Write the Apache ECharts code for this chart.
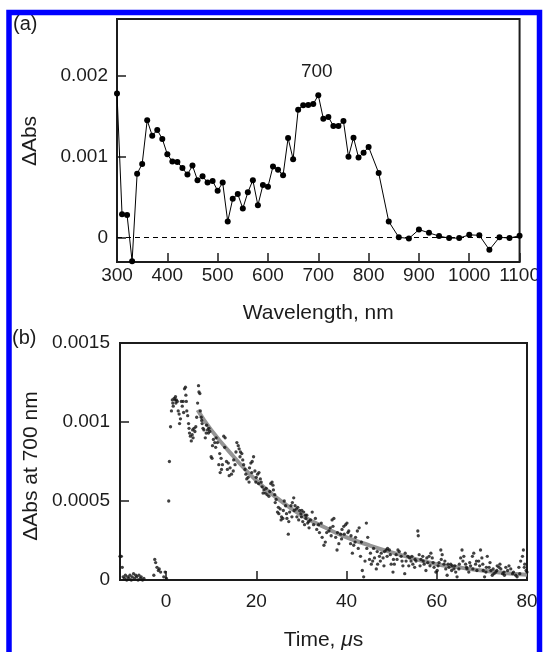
<!DOCTYPE html>
<html>
<head>
<meta charset="utf-8">
<script src="https://cdn.jsdelivr.net/npm/echarts@6/dist/echarts.min.js"></script>
<style>
html,body{margin:0;padding:0;background:#fff;}
#c{width:543px;height:652px;}
</style>
</head>
<body>
<div id="c"></div>
<script>
// ---------- Panel (a): transient absorption spectrum ----------
const wavelength = [300,310,320,330,340,350,360,370,380,390,400,410,420,430,440,450,460,470,480,490,500,510,520,530,540,550,560,570,580,590,600,610,620,630,640,650,660,670,680,690,700,710,720,730,740,750,760,770,780,790,800,820,840,860,880,900,920,940,960,980,1000,1020,1040,1060,1080,1100];
// ΔAbs in units of 1e-3
const spectrumAbs = [1.78,0.29,0.28,-0.29,0.79,0.91,1.45,1.26,1.33,1.22,1.03,0.94,0.935,0.86,0.78,0.89,0.71,0.76,0.68,0.70,0.58,0.68,0.20,0.48,0.54,0.36,0.56,0.71,0.40,0.65,0.63,0.88,0.84,0.77,1.23,0.97,1.58,1.635,1.638,1.65,1.76,1.47,1.49,1.38,1.38,1.44,1.00,1.235,0.99,1.05,1.12,0.80,0.20,0.005,-0.01,0.10,0.06,0.02,-0.005,-0.005,0.035,0.03,-0.15,0.005,-0.005,0.025];
const xTicksA = [300,400,500,600,700,800,900,1000,1100];
const yTicksA = [0,0.001,0.002];
const peakLabel = '700';

// ---------- Panel (b): decay at 700 nm ----------
// [time (µs), ΔAbs in units of 1e-3]
const decayPoints = [
[-10.4,0.12],[-10.2,0.15],[-9.9,0.15],[-9.7,0.08],[-9.5,0.02],[-9.2,0.01],[-9.0,0.03],[-8.7,0.0],[-8.5,0.02],[-8.2,0.01],[-8.0,0.03],[-7.7,0.0],[-7.5,0.02],[-7.2,0.04],[-7.0,0.01],[-6.7,0.03],[-6.5,0.02],[-6.2,0.0],[-6.0,0.03],[-5.7,0.01],[-5.5,0.02],[-5.2,0.0],[-4.9,0.01],[-2.7,0.03],[-2.5,0.13],[-2.3,0.11],[-2.0,0.08],[-1.7,0.06],[-1.5,0.07],[-1.2,0.05],[-0.5,0.02],[-0.2,0.05],[0.1,0.01],
[0.6,0.50],[0.75,0.75],[1.0,0.97],
[1.2,1.07],[1.4,1.14],[1.8,1.15],[2.0,1.14],[2.3,1.14],[2.5,1.13],[2.7,1.07],[2.9,1.05],[3.0,0.99],[3.4,1.13],[3.8,1.13],[4.1,1.21],[4.3,1.22],[4.5,1.13],[4.6,1.07],[4.8,1.04],[5.0,0.99],[5.2,0.93],[5.4,0.91],[5.6,0.88],[5.9,0.95],[6.2,0.96],[6.4,0.94],[6.8,1.03],[7.0,1.12],[7.2,1.23],[7.3,1.19],[7.5,1.18],[7.6,1.07],[7.8,1.03],[7.9,1.01],[8.2,0.96],[8.4,0.95],[8.7,0.90],[9.0,0.98],[9.2,0.95],[9.4,0.93],[9.7,0.94],[10.0,0.78],[10.2,0.77],[10.5,0.89],[10.8,0.87],[11.1,0.90],[11.4,0.87],[11.7,0.73],[12.0,0.68],[12.2,0.77],[12.5,0.73],[12.8,0.91],[13.1,0.90],[13.4,0.75],[13.8,0.74],[14.2,0.71],[14.5,0.67],[14.9,0.69],[15.3,0.73],[15.7,0.87],[16.0,0.85],[16.2,0.83],[16.5,0.81],[16.8,0.80],[17.2,0.73],[17.5,0.70],[17.9,0.64],[18.2,0.65],[18.5,0.71],[18.8,0.74],[19.1,0.75],[19.4,0.78],[19.7,0.69],[20.0,0.65],[20.3,0.67],[20.6,0.68],[20.9,0.64],[21.3,0.59],[21.7,0.57],[22.0,0.55],[22.4,0.54],[22.8,0.53],[23.2,0.61],[23.5,0.62],[23.8,0.57],[24.1,0.54],[24.4,0.51],[24.7,0.43],[25.0,0.42],[25.3,0.45],[25.6,0.40],[25.9,0.39],[26.2,0.50],[26.5,0.47],[26.8,0.39],[27.1,0.29],[27.4,0.43],[27.7,0.47],[28.0,0.49],[28.3,0.52],[28.6,0.47],[28.9,0.45],[29.2,0.46],[29.6,0.44],[29.9,0.42],[30.3,0.37],[30.7,0.35],[31.0,0.39],[31.4,0.36],
[1.5,1.12],[1.6,1.10],[2.1,1.16],[2.2,1.12],[3.2,1.02],[3.6,1.10],[3.9,1.06],[4.4,1.17],[5.1,0.96],[5.8,0.92],[6.0,0.90],[6.6,0.97],[8.0,0.99],[8.9,0.93],[9.5,0.96],[10.3,0.85],[11.0,0.84],[11.9,0.80],[12.3,0.70],[13.0,0.84],[13.6,0.70],[14.0,0.66],[15.0,0.76],[15.5,0.81],[16.4,0.78],[17.0,0.76],[17.7,0.67],[18.4,0.62],[19.0,0.68],[19.9,0.62],[20.5,0.61],[21.1,0.62],[21.5,0.55],[22.2,0.58],[23.0,0.56],[23.7,0.60],[24.2,0.49],[24.9,0.46],[25.5,0.38],[26.0,0.44],[26.7,0.42],[27.2,0.37],[27.9,0.40],[28.4,0.44],[29.0,0.40],[29.4,0.38],[30.0,0.40],[30.5,0.43],[31.2,0.41],[31.7,0.33],[32.0,0.38],[32.7,0.35],[33.4,0.32],[34.0,0.30],[34.4,0.36],[35.6,0.30],[36.6,0.28],[37.0,0.34],[38.0,0.30],[38.9,0.26],[39.5,0.29],[40.3,0.30],[41.0,0.28],[41.9,0.24],[42.6,0.20],[43.3,0.24],[44.5,0.20],[45.3,0.17],[46.0,0.20],[46.8,0.18],[47.5,0.12],[48.3,0.09],[49.0,0.15],[49.7,0.16],[50.4,0.13],[51.2,0.13],[52.3,0.12],[53.0,0.17],[53.8,0.09],[54.5,0.15],[55.2,0.13],[56.3,0.09],[57.0,0.12],[57.8,0.14],[58.5,0.09],[59.2,0.11],[60.3,0.09],[61.0,0.13],[61.8,0.12],[62.5,0.10],[63.3,0.06],[64.0,0.09],[65.0,0.10],[65.8,0.12],[66.6,0.08],[67.3,0.11],[68.0,0.07],[68.8,0.12],[69.5,0.09],[70.2,0.10],[71.0,0.08],[71.8,0.11],[72.5,0.07],[73.3,0.06],[74.0,0.10],[74.6,0.04],[75.0,0.03],[75.7,0.06],[76.4,0.07],[77.0,0.05],[77.8,0.02],[78.4,0.04],[79.4,0.08],[80.0,0.05],
[30.1,0.44],[30.9,0.41],[31.6,0.37],[32.4,0.43],[33.1,0.39],[33.8,0.35],[34.6,0.27],[35.0,0.22],[35.3,0.24],[36.1,0.31],[36.4,0.33],[36.8,0.38],[37.2,0.39],[37.6,0.27],[37.9,0.19],[38.3,0.23],[38.7,0.29],[39.0,0.32],[39.4,0.34],[39.8,0.35],[40.1,0.36],[40.5,0.31],[40.9,0.23],[41.3,0.17],[41.6,0.22],[42.0,0.27],[42.4,0.31],[42.8,0.33],[43.1,0.15],[43.5,0.06],[43.8,0.02],[44.1,0.12],[44.4,0.36],[44.7,0.27],[45.1,0.13],[45.5,0.10],[45.8,0.12],[46.2,0.14],[46.6,0.07],[46.9,0.10],[47.3,0.15],[47.7,0.17],[48.1,0.14],[48.4,0.18],[48.8,0.19],[49.1,0.20],[49.5,0.19],[49.9,0.10],[50.3,0.05],[50.6,0.10],[51.0,0.16],[51.4,0.19],[51.7,0.18],[52.1,0.15],[52.5,0.09],[52.9,0.04],[53.2,0.12],[53.6,0.15],[54.0,0.14],[54.3,0.12],[54.7,0.10],[55.1,0.08],[55.4,0.12],[55.8,0.31],[55.9,0.28],[56.1,0.16],[56.5,0.13],[56.9,0.15],[57.2,0.10],[57.6,0.06],[58.0,0.11],[58.3,0.15],[58.7,0.17],[59.0,0.14],[59.4,0.08],[59.8,0.05],[60.1,0.06],[60.5,0.11],[60.9,0.19],[61.2,0.16],[61.6,0.10],[62.0,0.07],[62.3,0.03],[62.7,0.08],[63.1,0.10],[63.4,0.09],[63.8,0.07],[64.2,0.05],[64.5,0.02],[64.9,0.07],[65.3,0.14],[65.6,0.19],[66.0,0.15],[66.4,0.10],[66.7,0.07],[67.1,0.05],[67.5,0.09],[67.9,0.15],[68.2,0.17],[68.6,0.10],[68.9,0.06],[69.3,0.12],[69.7,0.19],[70.0,0.14],[70.3,0.06],[70.6,0.02],[70.9,0.05],[71.2,0.15],[71.6,0.08],[72.0,0.06],[72.3,0.03],[72.7,0.04],[73.1,0.05],[73.4,0.09],[73.8,0.08],[74.2,0.07],[74.9,0.05],[75.3,0.08],[76.0,0.09],[76.8,0.04],[77.5,0.03],[78.2,0.08],[78.6,0.12],[79.0,0.15],[79.2,0.19],[79.5,0.10],[79.8,0.06]
];
// fitted decay curve
const fitTime  = [7,10,15,20,25,30,35,40,45,50,55,60,65,70,75,80];
const fitAbs   = [1.076,0.95,0.78,0.63,0.51,0.41,0.335,0.27,0.22,0.175,0.135,0.10,0.08,0.06,0.045,0.033];
const xTicksB = [0,20,40,60,80];
const yTicksB = [0,0.0005,0.001,0.0015];

const UNIT = 0.001;
const FONT = '"Liberation Sans", Arial, Helvetica, sans-serif';
const INK = '#1c1c1c';

const chart = echarts.init(document.getElementById('c'), null, {renderer:'canvas'});

function plainNum(v){ return v===0 ? '0' : String(+v.toFixed(4)); }
function tick(values){ return {inside:true, length:9, lineStyle:{color:INK, width:1.5}, customValues:values}; }
function lbl(values, margin){ return {fontSize:19, color:INK, fontFamily:FONT, margin:margin, customValues:values, formatter:plainNum, showMinLabel:true, showMaxLabel:true}; }

const option = {
  backgroundColor:'#ffffff',
  animation:false,
  textStyle:{fontFamily:FONT},
  grid:[
    {left:117, top:19, width:407, height:243, show:true, borderColor:INK, borderWidth:2, backgroundColor:'transparent'},
    {left:120, top:343, width:407, height:244, show:true, borderColor:INK, borderWidth:2, backgroundColor:'transparent'}
  ],
  xAxis:[
    {
      gridIndex:0, type:'value', min:300, max:1100, interval:100,
      axisLine:{show:false, onZero:false}, splitLine:{show:false},
      axisTick:tick(xTicksA), axisLabel:lbl(xTicksA, 4),
      name:'Wavelength, nm', nameLocation:'middle', nameGap:41,
      nameTextStyle:{fontSize:21, color:INK, fontFamily:FONT}
    },
    {
      gridIndex:1, type:'value', min:-10.2, max:80,
      axisLine:{show:false, onZero:false}, splitLine:{show:false},
      axisTick:tick(xTicksB), axisLabel:lbl(xTicksB, 12),
      name:'Time, {it|μ}s', nameLocation:'middle', nameGap:50,
      nameTextStyle:{fontSize:21, color:INK, fontFamily:FONT, rich:{it:{fontStyle:'italic', fontSize:21, color:INK, fontFamily:FONT}}}
    }
  ],
  yAxis:[
    {
      gridIndex:0, type:'value', min:-0.0003, max:0.0027,
      axisLine:{show:false, onZero:false}, splitLine:{show:false},
      axisTick:tick(yTicksA), axisLabel:lbl(yTicksA, 9)
    },
    {
      gridIndex:1, type:'value', min:0, max:0.0015,
      axisLine:{show:false, onZero:false}, splitLine:{show:false},
      axisTick:tick(yTicksB), axisLabel:lbl(yTicksB, 10)
    }
  ],
  series:[
    {
      type:'line', xAxisIndex:0, yAxisIndex:0,
      data: wavelength.map((w,i)=>[w, spectrumAbs[i]*UNIT]),
      symbol:'circle', symbolSize:6, showSymbol:true,
      itemStyle:{color:'#000'}, lineStyle:{color:'#000', width:1},
      clip:false, z:5,
      markLine:{
        silent:true, symbol:['none','none'], label:{show:false},
        lineStyle:{color:'#000', type:[5,4], width:1},
        data:[{yAxis:0}]
      },
      markPoint:{
        silent:true, symbol:'rect', symbolSize:1, itemStyle:{color:'rgba(0,0,0,0)'},
        data:[{coord:[697, 0.00205], value:peakLabel,
          label:{show:true, position:'inside', formatter:peakLabel, fontSize:19, color:INK, fontFamily:FONT}}]
      }
    },
    {
      type:'line', xAxisIndex:1, yAxisIndex:1,
      data: fitTime.map((t,i)=>[t, fitAbs[i]*UNIT]),
      smooth:true, showSymbol:false,
      lineStyle:{color:'#959595', width:4}, z:2
    },
    {
      type:'scatter', xAxisIndex:1, yAxisIndex:1,
      data: decayPoints.map(p=>[p[0], p[1]*UNIT]),
      symbol:'circle', symbolSize:3.3, itemStyle:{color:'#111'}, z:3, clip:true
    }
  ],
  graphic:[
    {type:'text', x:30, y:141, rotation:Math.PI/2, style:{text:'ΔAbs', font:'21px '+FONT, fill:INK, align:'center', verticalAlign:'middle'}},
    {type:'text', x:31, y:466, rotation:Math.PI/2, style:{text:'ΔAbs at 700 nm', font:'21px '+FONT, fill:INK, align:'center', verticalAlign:'middle'}},
    {type:'text', x:13, y:14, style:{text:'(a)', font:'20px '+FONT, fill:INK, align:'left', verticalAlign:'top'}},
    {type:'text', x:12, y:328, style:{text:'(b)', font:'20px '+FONT, fill:INK, align:'left', verticalAlign:'top'}},
    {type:'rect', z:100, shape:{x:9, y:12.5, width:530.5, height:700}, style:{fill:'none', stroke:'#0000ff', lineWidth:5.5}}
  ]
};
chart.setOption(option);
</script>
</body>
</html>
